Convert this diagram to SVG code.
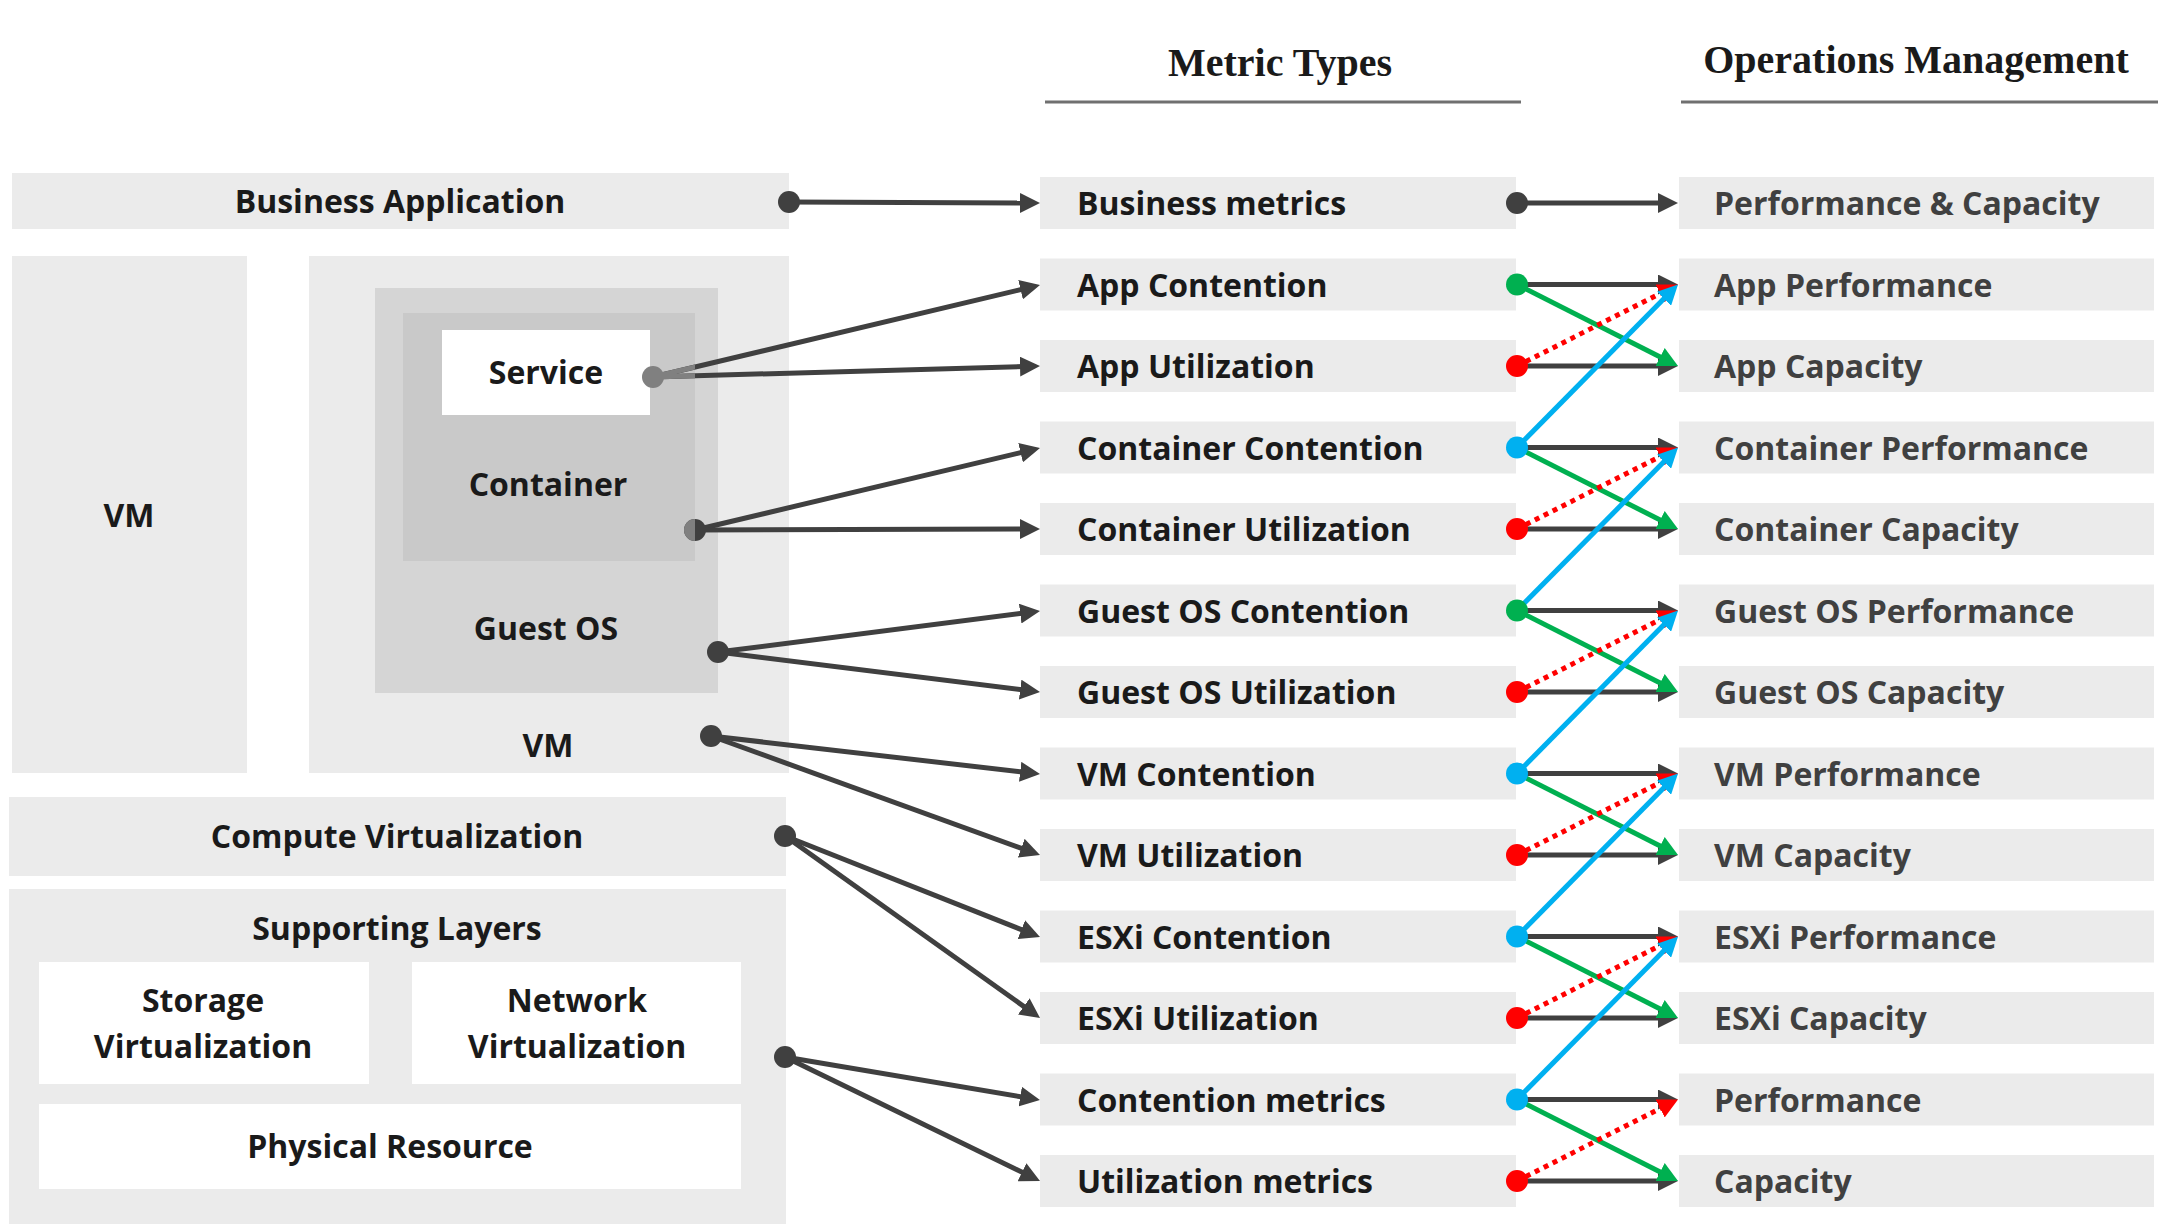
<svg xmlns="http://www.w3.org/2000/svg" width="2175" height="1230" viewBox="0 0 2175 1230">
<style>
  .box { fill: #ebebeb; }
  .white { fill: #ffffff; }
  .t { font-family: "Open Sans", "Noto Sans", "DejaVu Sans", sans-serif; font-weight: 700; font-size: 32px; fill: #1a1a1a; }
  .tc { text-anchor: middle; }
  .tr { fill: #404040; }
  .hdr { font-family: "Liberation Serif", "Times New Roman", serif; font-weight: 700; font-size: 40px; fill: #1a1a1a; text-anchor: middle; }
  .uline { stroke: #707070; stroke-width: 3; }
  .dk { stroke: #404040; stroke-width: 5; fill: none; marker-end: url(#ad); }
  .gr { stroke: #00b050; stroke-width: 5; fill: none; marker-end: url(#ag); }
  .rd { stroke: #ff0000; stroke-width: 5; fill: none; stroke-dasharray: 5 5; marker-end: url(#ar); }
  .bl { stroke: #00b0f0; stroke-width: 5; fill: none; marker-end: url(#ab); }
  .gy { stroke: #808080; stroke-width: 5; fill: none; }
</style>
<defs>
  <marker id="ad" viewBox="0 0 20 20" refX="10" refY="10" markerWidth="20" markerHeight="20" markerUnits="userSpaceOnUse" orient="auto"><path d="M0,0 L20,10 L0,20 z" fill="#404040"/></marker>
  <marker id="ag" viewBox="0 0 20 20" refX="10" refY="10" markerWidth="20" markerHeight="20" markerUnits="userSpaceOnUse" orient="auto"><path d="M0,0 L20,10 L0,20 z" fill="#00b050"/></marker>
  <marker id="ar" viewBox="0 0 20 20" refX="10" refY="10" markerWidth="20" markerHeight="20" markerUnits="userSpaceOnUse" orient="auto"><path d="M0,0 L20,10 L0,20 z" fill="#ff0000"/></marker>
  <marker id="ab" viewBox="0 0 20 20" refX="10" refY="10" markerWidth="20" markerHeight="20" markerUnits="userSpaceOnUse" orient="auto"><path d="M0,0 L20,10 L0,20 z" fill="#00b0f0"/></marker>
  <clipPath id="ctr"><rect x="403" y="313" width="292" height="248"/></clipPath>
</defs>
<rect width="2175" height="1230" fill="#ffffff"/>

<g id="headers">
  <text class="hdr" x="1280" y="76">Metric Types</text>
  <line class="uline" x1="1045" y1="102" x2="1521" y2="102"/>
  <text class="hdr" x="1916" y="73">Operations Management</text>
  <line class="uline" x1="1681" y1="102" x2="2158" y2="102"/>
</g>

<g id="left-layers">
  <g id="business-application"><rect class="box" x="12" y="173" width="777" height="56"/><text class="t tc" x="400" y="213">Business Application</text></g>
  <g id="vm-left"><rect class="box" x="12" y="256" width="235" height="517"/><text class="t tc" x="129" y="527">VM</text></g>
  <g id="vm-right"><rect class="box" x="309" y="256" width="480" height="517"/><text class="t tc" x="548" y="757">VM</text></g>
  <g id="guest-os"><rect x="375" y="288" width="343" height="405" fill="#d5d5d5"/><text class="t tc" x="546" y="640">Guest OS</text></g>
  <g id="container"><rect x="403" y="313" width="292" height="248" fill="#c9c9c9"/><text class="t tc" x="548" y="496">Container</text></g>
  <g id="service"><rect class="white" x="442" y="330" width="208" height="85"/><text class="t tc" x="546" y="384">Service</text></g>
  <g id="compute-virtualization"><rect class="box" x="9" y="797" width="777" height="79"/><text class="t tc" x="397" y="848">Compute Virtualization</text></g>
  <g id="supporting-layers"><rect class="box" x="9" y="889" width="777" height="335"/><text class="t tc" x="397" y="940">Supporting Layers</text></g>
  <g id="storage-virtualization"><rect class="white" x="39" y="962" width="330" height="122"/><text class="t tc" x="203" y="1012">Storage</text><text class="t tc" x="203" y="1058">Virtualization</text></g>
  <g id="network-virtualization"><rect class="white" x="412" y="962" width="329" height="122"/><text class="t tc" x="577" y="1012">Network</text><text class="t tc" x="577" y="1058">Virtualization</text></g>
  <g id="physical-resource"><rect class="white" x="39" y="1104" width="702" height="85"/><text class="t tc" x="390" y="1158">Physical Resource</text></g>
</g>

<g id="metric-types">
  <g id="m0"><rect class="box" x="1040" y="177" width="476" height="52"/><text class="t" x="1077" y="215">Business metrics</text></g>
  <g id="m1"><rect class="box" x="1040" y="258.5" width="476" height="52"/><text class="t" x="1077" y="296.5">App Contention</text></g>
  <g id="m2"><rect class="box" x="1040" y="340" width="476" height="52"/><text class="t" x="1077" y="378">App Utilization</text></g>
  <g id="m3"><rect class="box" x="1040" y="421.5" width="476" height="52"/><text class="t" x="1077" y="459.5">Container Contention</text></g>
  <g id="m4"><rect class="box" x="1040" y="503" width="476" height="52"/><text class="t" x="1077" y="541">Container Utilization</text></g>
  <g id="m5"><rect class="box" x="1040" y="584.5" width="476" height="52"/><text class="t" x="1077" y="622.5">Guest OS Contention</text></g>
  <g id="m6"><rect class="box" x="1040" y="666" width="476" height="52"/><text class="t" x="1077" y="704">Guest OS Utilization</text></g>
  <g id="m7"><rect class="box" x="1040" y="747.5" width="476" height="52"/><text class="t" x="1077" y="785.5">VM Contention</text></g>
  <g id="m8"><rect class="box" x="1040" y="829" width="476" height="52"/><text class="t" x="1077" y="867">VM Utilization</text></g>
  <g id="m9"><rect class="box" x="1040" y="910.5" width="476" height="52"/><text class="t" x="1077" y="948.5">ESXi Contention</text></g>
  <g id="m10"><rect class="box" x="1040" y="992" width="476" height="52"/><text class="t" x="1077" y="1030">ESXi Utilization</text></g>
  <g id="m11"><rect class="box" x="1040" y="1073.5" width="476" height="52"/><text class="t" x="1077" y="1111.5">Contention metrics</text></g>
  <g id="m12"><rect class="box" x="1040" y="1155" width="476" height="52"/><text class="t" x="1077" y="1193">Utilization metrics</text></g>
</g>

<g id="operations-management">
  <g id="o0"><rect class="box" x="1679" y="177" width="475" height="52"/><text class="t tr" x="1714" y="215">Performance &amp; Capacity</text></g>
  <g id="o1"><rect class="box" x="1679" y="258.5" width="475" height="52"/><text class="t tr" x="1714" y="296.5">App Performance</text></g>
  <g id="o2"><rect class="box" x="1679" y="340" width="475" height="52"/><text class="t tr" x="1714" y="378">App Capacity</text></g>
  <g id="o3"><rect class="box" x="1679" y="421.5" width="475" height="52"/><text class="t tr" x="1714" y="459.5">Container Performance</text></g>
  <g id="o4"><rect class="box" x="1679" y="503" width="475" height="52"/><text class="t tr" x="1714" y="541">Container Capacity</text></g>
  <g id="o5"><rect class="box" x="1679" y="584.5" width="475" height="52"/><text class="t tr" x="1714" y="622.5">Guest OS Performance</text></g>
  <g id="o6"><rect class="box" x="1679" y="666" width="475" height="52"/><text class="t tr" x="1714" y="704">Guest OS Capacity</text></g>
  <g id="o7"><rect class="box" x="1679" y="747.5" width="475" height="52"/><text class="t tr" x="1714" y="785.5">VM Performance</text></g>
  <g id="o8"><rect class="box" x="1679" y="829" width="475" height="52"/><text class="t tr" x="1714" y="867">VM Capacity</text></g>
  <g id="o9"><rect class="box" x="1679" y="910.5" width="475" height="52"/><text class="t tr" x="1714" y="948.5">ESXi Performance</text></g>
  <g id="o10"><rect class="box" x="1679" y="992" width="475" height="52"/><text class="t tr" x="1714" y="1030">ESXi Capacity</text></g>
  <g id="o11"><rect class="box" x="1679" y="1073.5" width="475" height="52"/><text class="t tr" x="1714" y="1111.5">Performance</text></g>
  <g id="o12"><rect class="box" x="1679" y="1155" width="475" height="52"/><text class="t tr" x="1714" y="1193">Capacity</text></g>
</g>

<g id="connectors">
  <g id="left-connectors">
    <path class="dk" d="M789,202 L1030,203"/>
    <path class="dk" d="M653,377 L1030.3,287.3"/>
    <path class="dk" d="M653,377 L1030,366.3"/>
    <path class="dk" d="M695,530 L1030.3,450.3"/>
    <path class="dk" d="M695,530 L1030,529"/>
    <path class="dk" d="M718,652 L1030.1,612.3"/>
    <path class="dk" d="M718,652 L1030.1,690.8"/>
    <path class="dk" d="M711,736 L1030.1,772.9"/>
    <path class="dk" d="M711,736 L1030.6,851.6"/>
    <path class="dk" d="M785,836 L1030.7,933.3"/>
    <path class="dk" d="M785,836 L1031.9,1012.2"/>
    <path class="dk" d="M785,1057 L1030.1,1098.3"/>
    <path class="dk" d="M785,1057 L1031,1176.6"/>
    <g fill="#404040">
      <circle cx="789" cy="202" r="11"/>
      <circle cx="695" cy="530" r="11"/>
      <circle cx="718" cy="652" r="11"/>
      <circle cx="711" cy="736" r="11"/>
      <circle cx="785" cy="836" r="11"/>
      <circle cx="785" cy="1057" r="11"/>
    </g>
    <g clip-path="url(#ctr)">
      <path class="gy" d="M653,377 L1030.3,287.3"/>
      <path class="gy" d="M653,377 L1030,366.3"/>
      <circle cx="653" cy="377" r="11" fill="#808080"/>
      <circle cx="695" cy="530" r="11" fill="#808080"/>
    </g>
  </g>
  <g id="right-connectors">
    <path class="dk" d="M1517,203 L1668,203"/>
    <path class="dk" d="M1517,284.5 L1668,284.5"/>
    <path class="dk" d="M1517,366 L1668,366"/>
    <path class="dk" d="M1517,447.5 L1668,447.5"/>
    <path class="dk" d="M1517,529 L1668,529"/>
    <path class="dk" d="M1517,610.5 L1668,610.5"/>
    <path class="dk" d="M1517,692 L1668,692"/>
    <path class="dk" d="M1517,773.5 L1668,773.5"/>
    <path class="dk" d="M1517,855 L1668,855"/>
    <path class="dk" d="M1517,936.5 L1668,936.5"/>
    <path class="dk" d="M1517,1018 L1668,1018"/>
    <path class="dk" d="M1517,1099.5 L1668,1099.5"/>
    <path class="dk" d="M1517,1181 L1668,1181"/>

    <path class="gr" d="M1517,284.5 L1669.1,361.5"/>
    <path class="gr" d="M1517,447.5 L1669.1,524.5"/>
    <path class="gr" d="M1517,610.5 L1669.1,687.5"/>
    <path class="gr" d="M1517,773.5 L1669.1,850.5"/>
    <path class="gr" d="M1517,936.5 L1669.1,1013.5"/>
    <path class="gr" d="M1517,1099.5 L1669.1,1176.5"/>

    <path class="rd" d="M1517,366 L1669.1,289"/>
    <path class="rd" d="M1517,529 L1669.1,452"/>
    <path class="rd" d="M1517,692 L1669.1,615"/>
    <path class="rd" d="M1517,855 L1669.1,778"/>
    <path class="rd" d="M1517,1018 L1669.1,941"/>
    <path class="rd" d="M1517,1181 L1669.1,1104"/>

    <path class="bl" d="M1517,447.5 L1671,291.6"/>
    <path class="bl" d="M1517,610.5 L1671,454.6"/>
    <path class="bl" d="M1517,773.5 L1671,617.6"/>
    <path class="bl" d="M1517,936.5 L1671,780.6"/>
    <path class="bl" d="M1517,1099.5 L1671,943.6"/>

    <circle cx="1517" cy="203" r="11" fill="#404040"/>
    <circle cx="1517" cy="284.5" r="11" fill="#00b050"/>
    <circle cx="1517" cy="366" r="11" fill="#ff0000"/>
    <circle cx="1517" cy="447.5" r="11" fill="#00b0f0"/>
    <circle cx="1517" cy="529" r="11" fill="#ff0000"/>
    <circle cx="1517" cy="610.5" r="11" fill="#00b050"/>
    <circle cx="1517" cy="692" r="11" fill="#ff0000"/>
    <circle cx="1517" cy="773.5" r="11" fill="#00b0f0"/>
    <circle cx="1517" cy="855" r="11" fill="#ff0000"/>
    <circle cx="1517" cy="936.5" r="11" fill="#00b0f0"/>
    <circle cx="1517" cy="1018" r="11" fill="#ff0000"/>
    <circle cx="1517" cy="1099.5" r="11" fill="#00b0f0"/>
    <circle cx="1517" cy="1181" r="11" fill="#ff0000"/>
  </g>
</g>
</svg>
